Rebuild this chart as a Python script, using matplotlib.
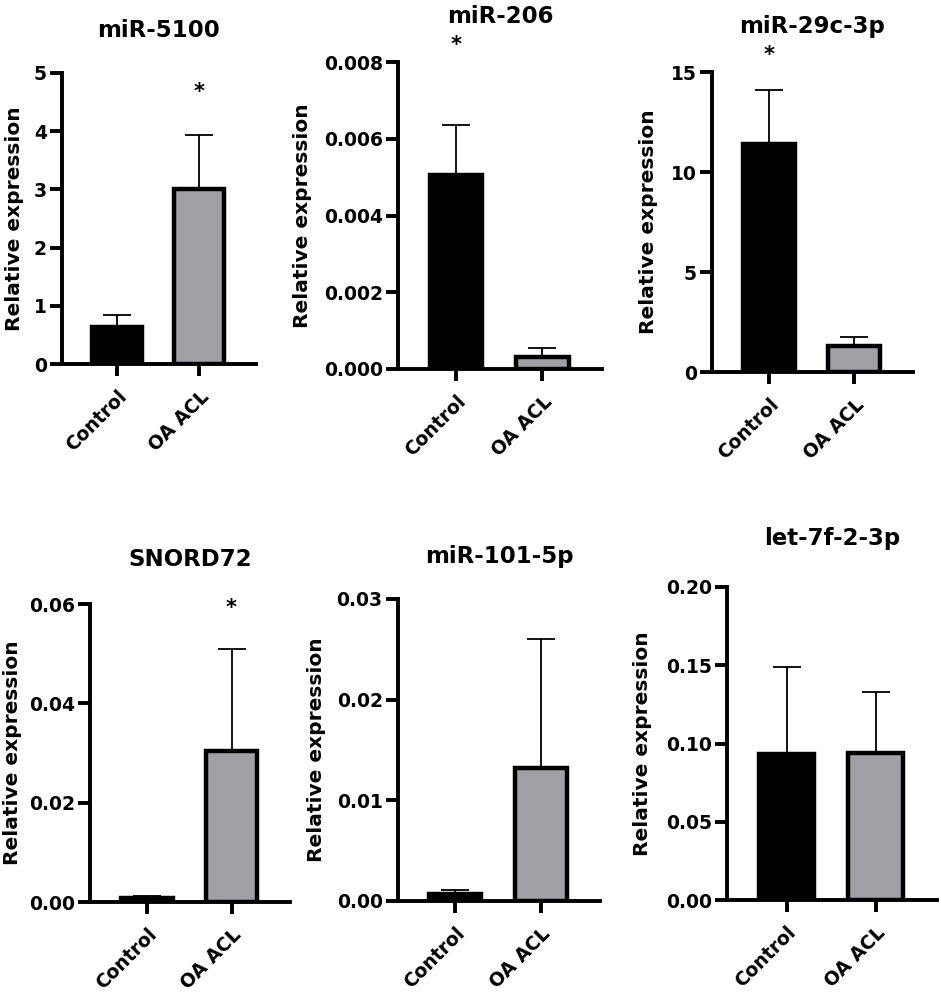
import matplotlib
matplotlib.use("Agg")
import matplotlib.pyplot as plt

plt.rcParams['font.family'] = ['DejaVu Sans']
plt.rcParams['font.weight'] = 'bold'

# data
groups = ["Control", "OA ACL"]
titles = ["miR-5100", "miR-206", "miR-29c-3p", "SNORD72", "miR-101-5p", "let-7f-2-3p"]
means = [
    [0.63, 3.0],
    [0.00505, 0.0003],
    [11.4, 1.3],
    [0.0008, 0.0305],
    [0.0007, 0.0132],
    [0.093, 0.094],
]
err_tops = [
    [0.85, 3.94],
    [0.00637, 0.00055],
    [14.1, 1.75],
    [0.0012, 0.051],
    [0.0011, 0.026],
    [0.149, 0.133],
]
y_max = [5, 0.008, 15, 0.06, 0.03, 0.20]
y_step = [1, 0.002, 5, 0.02, 0.01, 0.05]
y_fmt = ["{:.0f}", "{:.3f}", "{:.0f}", "{:.2f}", "{:.2f}", "{:.2f}"]
# significance stars: (group index, height) or None
stars = [(1, 4.67), (0, 0.00844), (0, 15.85), (1, 0.0592), None, None]

# layout in pixels: left, right, top, bottom of the axes, ylabel x, title pad
W, H = 941, 998
boxes = [
    (62, 256, 73, 364, 15, 36),
    (398, 602, 62, 369, 303, 39),
    (712, 913, 72, 372, 648, 39),
    (90, 290, 604, 902, 13, 38),
    (398, 600, 599, 901, 317, 36),
    (727, 937, 587, 900, 643, 42),
]
colors = ["black", "#a0a0a6"]

fig = plt.figure(figsize=(W / 100, H / 100), dpi=100)

for i, (l, r, t, b, lx, tpad) in enumerate(boxes):
    ax = fig.add_axes([l / W, (H - b) / H, (r - l) / W, (b - t) / H])
    x = [0, 1]
    m = means[i]
    up = [e - v for e, v in zip(err_tops[i], m)]
    ax.errorbar(x, m, yerr=[[0, 0], up], fmt='none', ecolor='black',
                elinewidth=1.3, capsize=10, capthick=1.3, zorder=1)
    ax.bar(x, m, width=0.61, color=colors, edgecolor='black', linewidth=3.2, zorder=2)

    ax.set_xlim(-0.67, 1.69)
    ax.set_ylim(0, y_max[i])
    n = round(y_max[i] / y_step[i])
    yt = [k * y_step[i] for k in range(n + 1)]
    ax.set_yticks(yt)
    ax.set_yticklabels([y_fmt[i].format(v) for v in yt], fontsize=13.5, fontweight='bold')
    ax.set_xticks(x)
    ax.set_xticklabels(groups, rotation=45, ha='right', va='top',
                       rotation_mode='anchor', fontsize=13.5, fontweight='bold')

    for s in ['top', 'right']:
        ax.spines[s].set_visible(False)
    for s in ['left', 'bottom']:
        ax.spines[s].set_linewidth(2.8)
    ax.tick_params(width=2.8, length=8.5, direction='out', pad=2.5)
    ax.tick_params(axis='x', pad=8)

    ax.set_ylabel("Relative expression", fontsize=14.5, fontweight='bold', va='center')
    ax.yaxis.set_label_coords((lx - l) / (r - l), 0.5)
    ax.set_title(titles[i], fontsize=16.5, fontweight='bold', pad=tpad * 0.72)

    if stars[i] is not None:
        g, h = stars[i]
        ax.text(g, h, "*", ha='center', va='center', fontsize=15,
                fontweight='bold', clip_on=False)

fig.savefig("out.png", dpi=100)
